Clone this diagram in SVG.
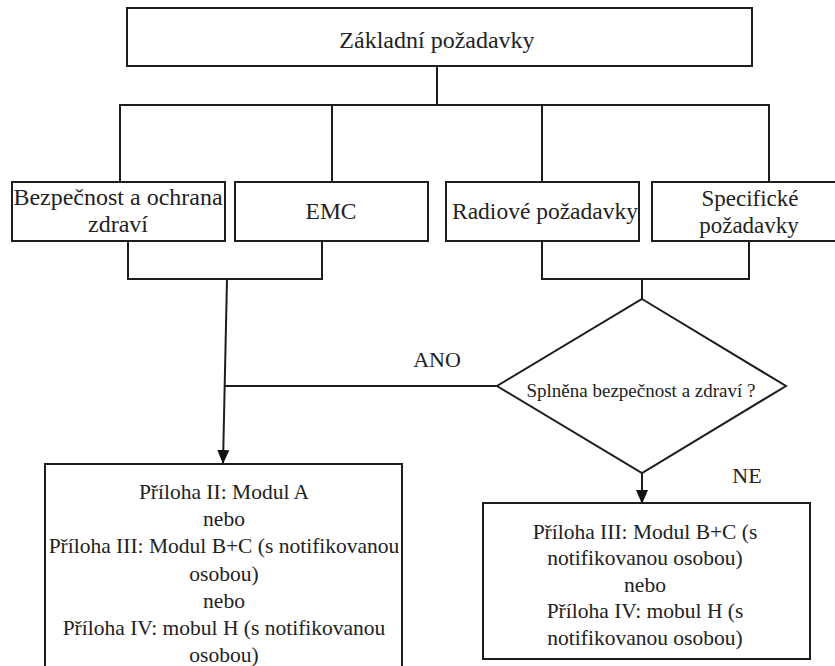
<svg xmlns="http://www.w3.org/2000/svg" width="835" height="666" viewBox="0 0 835 666">
  <style>
    .box { fill: #ffffff; stroke: #1e1e1e; stroke-width: 2; }
    .wire { fill: none; stroke: #1e1e1e; stroke-width: 2; }
    .lbl { font-family: "Liberation Serif", "Times New Roman", serif; font-size: 22px; fill: #222222; text-anchor: middle; }
    .big { font-size: 23.5px; }
    .body { font-size: 21.5px; }
    .small { font-size: 19px; }
  </style>
  <defs>
    <marker id="arrow" viewBox="0 0 14 14" markerWidth="14" markerHeight="14" refX="13" refY="7" orient="auto" markerUnits="userSpaceOnUse">
      <path d="M0,1 L14,7 L0,13 Z" fill="#111111"/>
    </marker>
  </defs>
  <rect width="835" height="666" fill="#ffffff"/>

  <!-- connectors -->
  <g id="connectors">
    <!-- trunk from the top box to the four requirement boxes -->
    <path class="wire" d="M437,66 V105"/>
    <path class="wire" d="M120,182 V105 H769 V182"/>
    <path class="wire" d="M332,105 V182"/>
    <path class="wire" d="M542,105 V182"/>
    <!-- left pair joins -->
    <path class="wire" d="M128,241 V279 H322 V241"/>
    <path class="wire" d="M227,279 L223,463" marker-end="url(#arrow)"/>
    <!-- right pair joins -->
    <path class="wire" d="M542,241 V279 H749 V241"/>
    <path class="wire" d="M642,279 V299"/>
    <!-- decision outputs -->
    <path class="wire" d="M497,386 H224"/>
    <path class="wire" d="M642,473 V503" marker-end="url(#arrow)"/>
    <text class="lbl" x="437" y="367">ANO</text>
    <text class="lbl" x="747" y="483">NE</text>
  </g>

  <g id="zakladni">
    <rect class="box" x="127" y="8" width="625" height="58"/>
    <text class="lbl" x="437" y="48" style="font-size:24px">Základní požadavky</text>
  </g>

  <g id="bezpecnost">
    <rect class="box" x="12" y="182" width="213" height="59"/>
    <text class="lbl" x="118" y="205" style="font-size:24px">Bezpečnost a ochrana</text>
    <text class="lbl" x="118" y="232" style="font-size:24px">zdraví</text>
  </g>

  <g id="emc">
    <rect class="box" x="235" y="182" width="193" height="59"/>
    <text class="lbl big" x="331" y="219">EMC</text>
  </g>

  <g id="radiove">
    <rect class="box" x="446" y="182" width="193" height="59"/>
    <text class="lbl big" x="545" y="219">Radiové požadavky</text>
  </g>

  <g id="specificke">
    <rect class="box" x="652" y="182" width="196" height="59"/>
    <text class="lbl" x="750" y="206" style="font-size:23px">Specifické</text>
    <text class="lbl" x="749" y="233" style="font-size:23px">požadavky</text>
  </g>

  <g id="rozhodnuti">
    <polygon class="box" points="642,299 786,386 642,473 497,386"/>
    <text class="lbl small" x="641" y="397">Splněna bezpečnost a zdraví ?</text>
  </g>

  <g id="moduly-ano">
    <rect class="box" x="45" y="464" width="357" height="210"/>
    <text class="lbl body" x="224" y="499">Příloha II: Modul A</text>
    <text class="lbl body" x="224" y="526">nebo</text>
    <text class="lbl body" x="224" y="553">Příloha III: Modul B+C (s notifikovanou</text>
    <text class="lbl body" x="224" y="581">osobou)</text>
    <text class="lbl body" x="224" y="608">nebo</text>
    <text class="lbl body" x="224" y="635">Příloha IV: mobul H (s notifikovanou</text>
    <text class="lbl body" x="224" y="662">osobou)</text>
  </g>

  <g id="moduly-ne">
    <rect class="box" x="483" y="503" width="327" height="156"/>
    <text class="lbl body" x="645" y="539">Příloha III: Modul B+C (s</text>
    <text class="lbl body" x="645" y="565">notifikovanou osobou)</text>
    <text class="lbl body" x="645" y="592">nebo</text>
    <text class="lbl body" x="645" y="618">Příloha IV: mobul H (s</text>
    <text class="lbl body" x="645" y="645">notifikovanou osobou)</text>
  </g>
</svg>
